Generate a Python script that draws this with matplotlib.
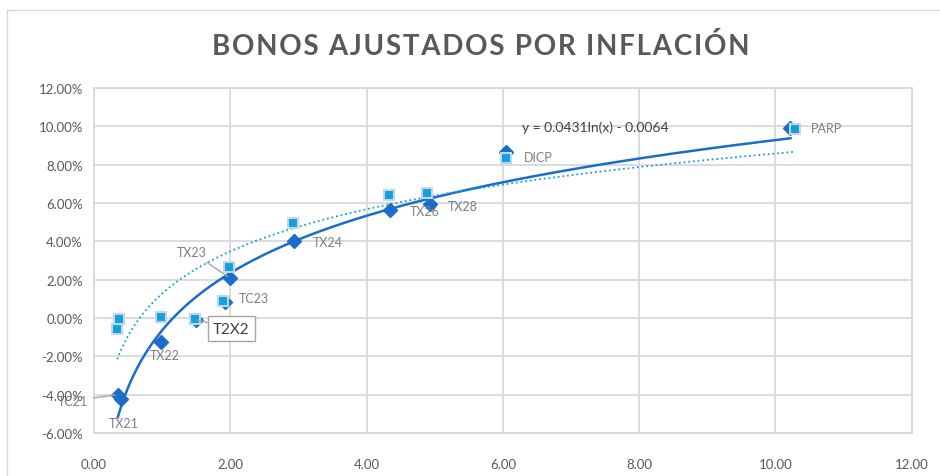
import matplotlib.pyplot as plt
import numpy as np

# Bonos: duración (x) y rendimiento (y), serie principal (rombos)
bonos = ['TC21', 'TX21', 'TX22', 'T2X2', 'TC23', 'TX23', 'TX24', 'TX26', 'TX28', 'DICP', 'PARP']
dur_tir = [0.35, 0.39, 0.99, 1.49, 1.92, 1.99, 2.93, 4.34, 4.93, 6.05, 10.22]
tir = [-0.0400, -0.0425, -0.0124, -0.0008, 0.0082, 0.0209, 0.0402, 0.0564, 0.0595, 0.0865, 0.0992]

# Segunda serie (cuadrados)
dur_sq = [0.34, 0.37, 0.98, 1.48, 1.90, 1.98, 2.92, 4.33, 4.89, 6.04, 10.28]
val_sq = [-0.0057, -0.0005, 0.0004, -0.0005, 0.0087, 0.0267, 0.0496, 0.0642, 0.0653, 0.0834, 0.0987]

# Tendencia logarítmica de la serie principal
coef_a, coef_b = 0.0431, -0.0064

x_ticks = [0, 2, 4, 6, 8, 10, 12]
y_ticks = [-0.06, -0.04, -0.02, 0.0, 0.02, 0.04, 0.06, 0.08, 0.10, 0.12]

# desplazamiento de cada etiqueta en píxeles (dx, dy, alineación)
offsets = {
    'TC21': (-30, -6, 'right'),
    'TX21': (3, -24, 'center'),
    'TX22': (-12, -13, 'left'),
    'T2X2': (36, -9, 'center'),
    'TC23': (14, 4, 'left'),
    'TX23': (-23, 26, 'right'),
    'TX24': (19, -1, 'left'),
    'TX26': (20, -1, 'left'),
    'TX28': (18, -2, 'left'),
    'DICP': (18, -5, 'left'),
    'PARP': (20, 0, 'left'),
}

plt.rcParams['font.family'] = ['Lato', 'DejaVu Sans']

fig = plt.figure(figsize=(9.4, 4.77), dpi=100)
ax = fig.add_axes([0.1, 0.0901, 0.870, 0.7233])

azul = '#1A6DC8'
celeste = '#159FDC'
gris_txt = '#595959'

# líneas de tendencia
xs = np.linspace(min(dur_tir), max(dur_tir), 400)
ax.plot(xs, coef_a * np.log(xs) + coef_b, color=azul, lw=1.8, zorder=3)

pa, pb = np.polyfit(np.log(dur_sq), val_sq, 1)
xs2 = np.linspace(min(dur_sq), max(dur_sq), 400)
ax.plot(xs2, pa * np.log(xs2) + pb, color=celeste, lw=1.3, ls=(0, (1, 1.6)), zorder=3)

# puntos
ax.plot(dur_tir, tir, ls='none', marker='D', ms=7, color=azul, zorder=4)
ax.plot(dur_sq, val_sq, ls='none', marker='s', ms=7.5, color=celeste,
        markeredgecolor='#BDD7EE', markeredgewidth=1.5, zorder=5)

# etiquetas de los bonos
for nombre, xv, yv in zip(bonos, dur_tir, tir):
    dx, dy, ha = offsets[nombre]
    if nombre == 'T2X2':
        ax.annotate(nombre, (xv, yv), xytext=(dx, dy), textcoords='offset pixels',
                    ha=ha, va='center', fontsize=11, color='#404040', zorder=6,
                    bbox=dict(boxstyle='square,pad=0.35', fc='white', ec='#A6A6A6', lw=1),
                    arrowprops=dict(arrowstyle='-', color='#A6A6A6', lw=1,
                                    shrinkA=0, shrinkB=2))
    elif nombre in ('TC21', 'TX23'):
        ax.annotate(nombre, (xv, yv), xytext=(dx, dy), textcoords='offset pixels',
                    ha=ha, va='center', fontsize=9, color='#7F7F7F', zorder=6,
                    annotation_clip=False,
                    arrowprops=dict(arrowstyle='-', color='#A6A6A6', lw=1,
                                    shrinkA=2, shrinkB=2))
    else:
        ax.annotate(nombre, (xv, yv), xytext=(dx, dy), textcoords='offset pixels',
                    ha=ha, va='center', fontsize=9, color='#7F7F7F', zorder=6)

ax.text(6.28, 0.0997, 'y = 0.0431ln(x) - 0.0064', fontsize=10, color='#404040',
        ha='left', va='center', zorder=6)

# ejes y cuadrícula
ax.set_xlim(0, 12)
ax.set_ylim(-0.06, 0.12)
ax.set_xticks(x_ticks)
ax.set_yticks(y_ticks)
ax.set_xticklabels([f'{v:.2f}' for v in x_ticks])
ax.set_yticklabels([f'{v * 100:.2f}%' for v in y_ticks])
ax.tick_params(length=0, labelsize=9.5, colors=gris_txt, pad=8)
ax.tick_params(axis='x', pad=18)
ax.grid(color='#D9D9D9', lw=1.3, zorder=0)
for s in ax.spines.values():
    s.set_color('#D9D9D9')
    s.set_linewidth(1.3)
ax.set_axisbelow(True)

# título con espaciado entre letras
titulo = 'BONOS AJUSTADOS POR INFLACIÓN'
fig.text(0.511, 0.9015, '\u200a'.join(titulo), ha='center', va='center',
         fontsize=20, fontweight='bold', color=gris_txt)

# marco exterior del gráfico
fig.add_artist(plt.Line2D([7 / 940, 7 / 940], [0, 1 - 11 / 477], color='#D9D9D9', lw=1))
fig.add_artist(plt.Line2D([7 / 940, 1], [1 - 11 / 477, 1 - 11 / 477], color='#D9D9D9', lw=1))

fig.savefig('out.png', dpi=100)
